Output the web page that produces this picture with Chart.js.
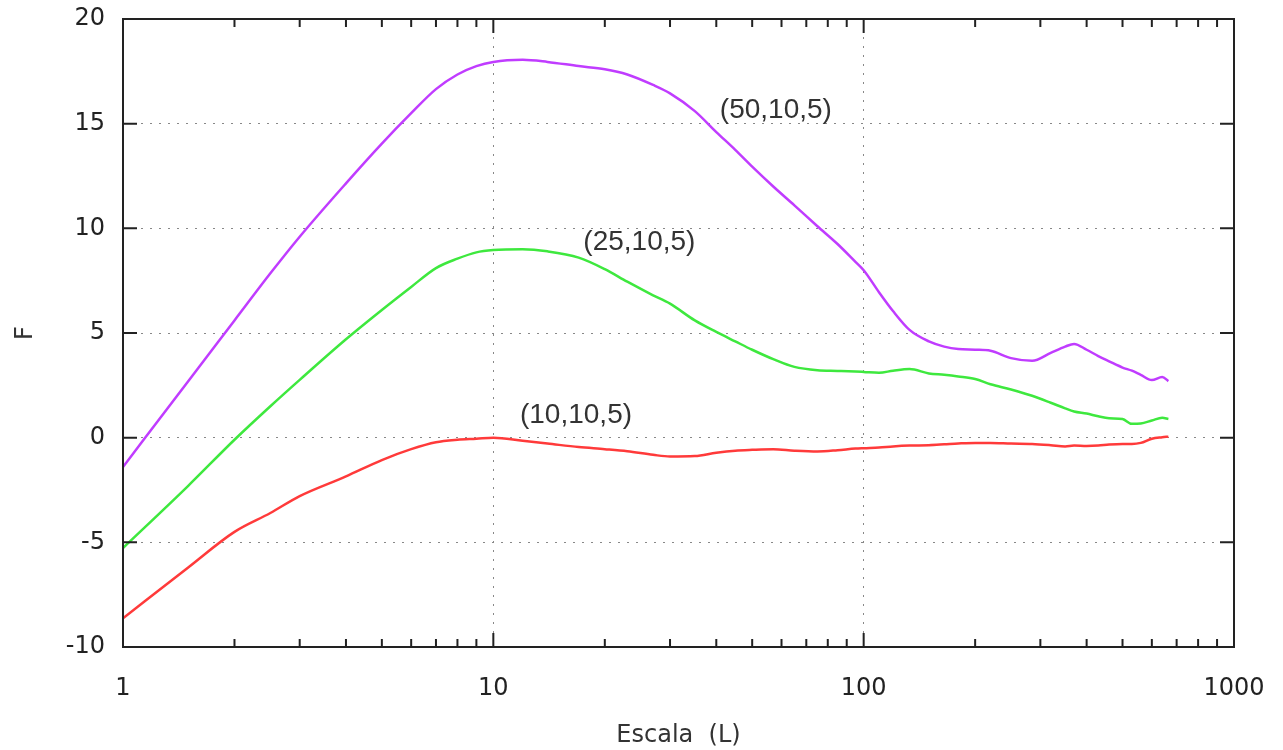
<!DOCTYPE html>
<html>
<head>
<meta charset="utf-8">
<script src="https://cdn.jsdelivr.net/npm/chart.js@4/dist/chart.umd.min.js"></script>
<style>
  html, body { margin: 0; padding: 0; background: #fff; }
  #wrap { width: 1283px; height: 750px; }
</style>
</head>
<body>
<div id="wrap"><canvas id="plot"></canvas></div>
<script>
// scale L (x) and the three F curves
const scales_l = [1, 1.5, 2, 2.5, 3, 4, 5, 6, 7, 8, 9, 10, 12, 14, 17, 20, 23, 27, 30, 35, 40, 45, 50, 57, 65, 75, 85, 95, 100, 110, 120, 133, 150, 165, 180, 200, 220, 250, 285, 320, 350, 370, 400, 430, 460, 500, 530, 560, 600, 640, 665];

const f_50 = [-1.4, 2.7, 5.6, 7.85, 9.6, 12.15, 14.05, 15.5, 16.65, 17.35, 17.75, 17.95, 18.05, 17.95, 17.75, 17.6, 17.35, 16.85, 16.45, 15.6, 14.6, 13.75, 12.95, 12.0, 11.1, 10.1, 9.25, 8.4, 8.0, 6.95, 6.05, 5.15, 4.6, 4.35, 4.23, 4.2, 4.15, 3.8, 3.67, 4.05, 4.35, 4.48, 4.2, 3.9, 3.65, 3.35, 3.2, 3.0, 2.75, 2.9, 2.7];

const f_25 = [-5.27, -2.3, -0.1, 1.5, 2.76, 4.7, 6.1, 7.2, 8.1, 8.55, 8.85, 8.96, 9.0, 8.9, 8.6, 8.05, 7.45, 6.8, 6.4, 5.6, 5.05, 4.6, 4.2, 3.75, 3.38, 3.22, 3.19, 3.16, 3.14, 3.1, 3.2, 3.28, 3.07, 3.0, 2.92, 2.8, 2.55, 2.3, 2.0, 1.67, 1.4, 1.25, 1.15, 1.02, 0.93, 0.89, 0.66, 0.68, 0.82, 0.95, 0.89];

const f_10 = [-8.63, -6.2, -4.5, -3.6, -2.79, -1.85, -1.07, -0.55, -0.22, -0.1, -0.05, 0, -0.15, -0.28, -0.45, -0.55, -0.65, -0.82, -0.9, -0.88, -0.72, -0.62, -0.58, -0.55, -0.62, -0.66, -0.6, -0.52, -0.5, -0.47, -0.42, -0.38, -0.36, -0.32, -0.28, -0.25, -0.25, -0.28, -0.3, -0.36, -0.42, -0.38, -0.4, -0.38, -0.33, -0.3, -0.3, -0.25, -0.05, 0.02, 0.05];

const x_ticks = [1, 10, 100, 1000];
const y_ticks = [-10, -5, 0, 5, 10, 15, 20];

const label_texts = ['(50,10,5)', '(25,10,5)', '(10,10,5)'];
const label_x = [40.9, 17.5, 11.8];
const label_y = [15.27, 8.97, 0.70];

function points(values) {
    return scales_l.map((l, i) => ({x: l, y: values[i]}));
}

const tick_font = {family: 'DejaVu Sans', size: 24};

// gnuplot-style frame with inward ticks
const frame_plugin = {
    id: 'frame',
    afterDatasetsDraw(chart) {
        const {ctx, chartArea: a} = chart;
        const xs = chart.scales.x, ys = chart.scales.y;
        ctx.save();
        ctx.strokeStyle = '#222';
        ctx.lineWidth = 2;
        ctx.beginPath();
        y_ticks.forEach(v => {
            const p = ys.getPixelForValue(v);
            ctx.moveTo(a.left, p); ctx.lineTo(a.left + 14, p);
            ctx.moveTo(a.right, p); ctx.lineTo(a.right - 14, p);
        });
        for (let d = 1; d < 1000; d *= 10) {
            for (let m = 1; m < 10; m++) {
                const p = xs.getPixelForValue(d * m);
                const len = m === 1 ? 14 : 8;
                ctx.moveTo(p, a.bottom); ctx.lineTo(p, a.bottom - len);
                ctx.moveTo(p, a.top); ctx.lineTo(p, a.top + len);
            }
        }
        ctx.stroke();
        ctx.strokeRect(a.left, a.top, a.right - a.left, a.bottom - a.top);
        ctx.restore();
    }
};

const labels_plugin = {
    id: 'curve_labels',
    afterDatasetsDraw(chart) {
        const {ctx} = chart;
        const xs = chart.scales.x, ys = chart.scales.y;
        ctx.save();
        ctx.font = '28px "Liberation Sans"';
        ctx.fillStyle = '#333';
        ctx.textAlign = 'left';
        ctx.textBaseline = 'alphabetic';
        label_texts.forEach((t, i) => {
            ctx.fillText(t, xs.getPixelForValue(label_x[i]), ys.getPixelForValue(label_y[i]));
        });
        ctx.restore();
    }
};

new Chart('plot', {
    type: 'line',
    data: {
        datasets: [
            {data: points(f_50), borderColor: '#c03cff'},
            {data: points(f_25), borderColor: '#3ee83e'},
            {data: points(f_10), borderColor: '#ff3a3a'}
        ]
    },
    options: {
        responsive: true,
        maintainAspectRatio: false,
        animation: false,
        layout: {padding: {top: 19, right: 49, left: 0, bottom: 0}},
        elements: {
            point: {radius: 0},
            line: {borderWidth: 2.5, cubicInterpolationMode: 'monotone'}
        },
        scales: {
            x: {
                type: 'logarithmic',
                min: 1,
                max: 1000,
                afterBuildTicks: (s) => { s.ticks = x_ticks.map(v => ({value: v})); },
                afterFit: (s) => {
                    s.height = 103;
                    s.paddingLeft = 0;
                    s.paddingRight = 0;
                },
                ticks: {
                    font: tick_font,
                    color: '#222',
                    padding: 27,
                    maxRotation: 0,
                    callback: (v) => String(v)
                },
                grid: {
                    drawTicks: false,
                    color: (c) => (c.tick.value === 1 || c.tick.value === 1000) ? 'rgba(0,0,0,0)' : '#888'
                },
                border: {display: false, dash: [2, 7]},
                title: {
                    display: true,
                    text: 'Escala  (L)',
                    font: tick_font,
                    color: '#333',
                    padding: {top: 0, bottom: 0}
                }
            },
            y: {
                type: 'linear',
                min: -10,
                max: 20,
                afterBuildTicks: (s) => { s.ticks = y_ticks.map(v => ({value: v})); },
                afterFit: (s) => {
                    s.width = 123;
                    s.paddingTop = 0;
                    s.paddingBottom = 0;
                },
                ticks: {
                    font: tick_font,
                    color: '#222',
                    padding: 18
                },
                grid: {
                    drawTicks: false,
                    color: (c) => (c.tick.value === -10 || c.tick.value === 20) ? 'rgba(0,0,0,0)' : '#888'
                },
                border: {display: false, dash: [2, 7]},
                title: {
                    display: true,
                    text: 'F',
                    font: tick_font,
                    color: '#333',
                    padding: {top: 11, bottom: 0}
                }
            }
        },
        plugins: {
            legend: {display: false},
            tooltip: {enabled: false}
        }
    },
    plugins: [frame_plugin, labels_plugin]
});
</script>
</body>
</html>
